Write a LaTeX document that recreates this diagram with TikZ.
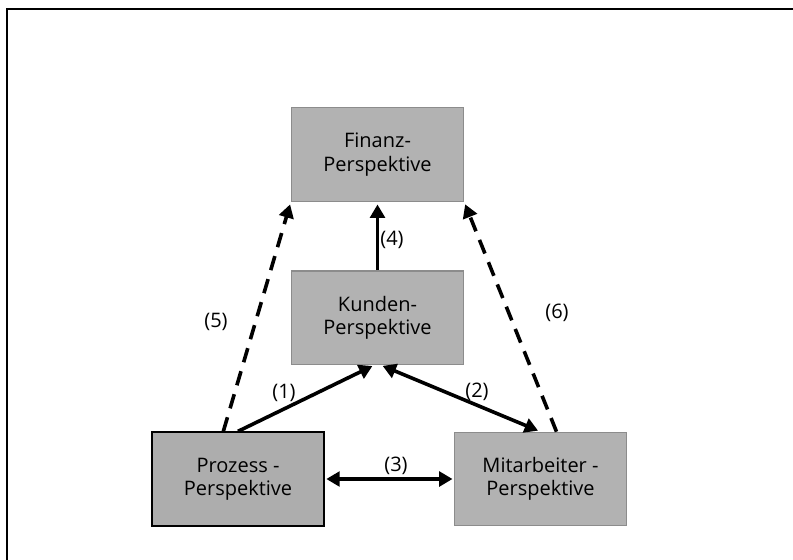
\documentclass[tikz,border=0pt]{standalone}
\usepackage{fontspec}
\setmainfont{Open Sans}
\usetikzlibrary{arrows.meta}

\begin{document}
\begin{tikzpicture}[x=0.75pt,y=-0.75pt,>={Triangle[length=10pt,width=11pt]},
                    shorten >=2pt,line width=2.7pt]
\tikzset{BoxStyle/.style = {draw=gray!90,line width=1pt,fill=black!30,
                            minimum width=129pt,minimum height=70pt,
                            align=center,font=\fontsize{15}{17.5}\selectfont},
         LabelStyle/.style = {font=\fontsize{15}{17.5}\selectfont},
         DashStyle/.style = {dash pattern=on 11pt off 7pt}}
\useasboundingbox (0,0) rectangle (793,560);
\draw[line width=1.6pt,shorten >=0pt] (793,9) -- (7,9) -- (7,560);
\node[BoxStyle] (finanz) at (377.5,154.5) {Finanz-\\Perspektive};
\node[BoxStyle] (kunden) at (377.5,317.5) {Kunden-\\Perspektive};
\node[BoxStyle,draw=black,line width=1.5pt,fill=black!32] (prozess) at (238,479) {Prozess -\\Perspektive};
\node[BoxStyle] (mitarb) at (540.5,479) {Mitarbeiter -\\Perspektive};
\draw[->] (kunden.north) -- (finanz.south);
\draw[->] (prozess.north) -- ([xshift=-2pt]kunden.south);
\draw[<->,shorten <=2pt] ([xshift=2pt]kunden.south) -- (mitarb.north);
\draw[<->,shorten <=1pt,shorten >=1pt] (prozess.east) -- (mitarb.west);
\draw[->,DashStyle] ([xshift=-11pt]prozess.north) -- (finanz.south west);
\draw[->,DashStyle] ([xshift=12pt]mitarb.north) -- (finanz.south east);
\node[LabelStyle] (l1) at (284,393) {(1)};
\node[LabelStyle] (l2) at (477,392) {(2)};
\node[LabelStyle] (l3) at (396,466) {(3)};
\node[LabelStyle] (l4) at (392,240) {(4)};
\node[LabelStyle] (l5) at (216,322) {(5)};
\node[LabelStyle] (l6) at (557,313) {(6)};
\end{tikzpicture}
\end{document}
